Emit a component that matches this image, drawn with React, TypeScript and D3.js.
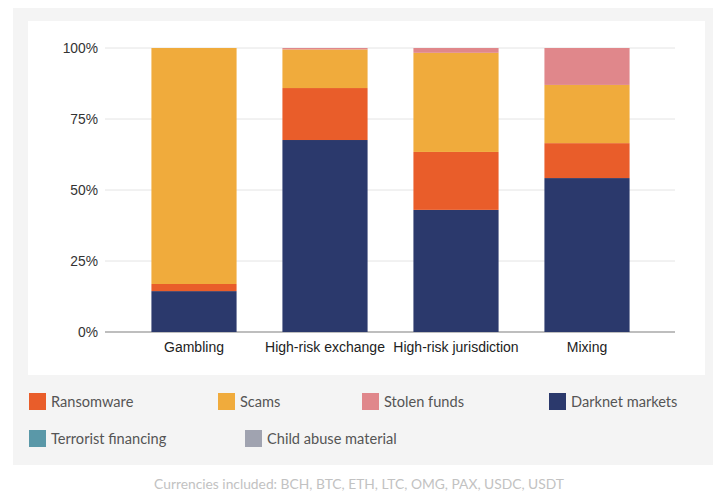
import React from "react";
import * as d3 from "d3";

const categories = ["Gambling", "High-risk exchange", "High-risk jurisdiction", "Mixing"];
const seriesNames = ["Darknet markets", "Ransomware", "Scams", "Stolen funds", "Terrorist financing", "Child abuse material"];
const darknet = [14.4, 67.6, 43.0, 54.2];
const ransomware = [2.5, 18.3, 20.4, 12.3];
const scams = [83.1, 13.6, 34.9, 20.5];
const stolen = [0, 0.5, 1.7, 13.0];
const terrorist = [0, 0, 0, 0];
const childAbuse = [0, 0, 0, 0];
const yTicks = [0, 25, 50, 75, 100];
const legendOrder = ["Ransomware", "Scams", "Stolen funds", "Darknet markets", "Terrorist financing", "Child abuse material"];
const footnote = "Currencies included: BCH, BTC, ETH, LTC, OMG, PAX, USDC, USDT";

const colors: Record<string, string> = {
  "Darknet markets": "#2b396c",
  "Ransomware": "#e95d2a",
  "Scams": "#f0ab3c",
  "Stolen funds": "#e0878b",
  "Terrorist financing": "#5a98a8",
  "Child abuse material": "#a0a3b0",
};

export default function App() {
  const W = 715, H = 496;
  const seriesValues = [darknet, ransomware, scams, stolen, terrorist, childAbuse];
  const rows = categories.map((c, i) => {
    const r: any = { cat: c };
    seriesNames.forEach((s, j) => (r[s] = seriesValues[j][i]));
    return r;
  });
  const stack = d3.stack<any>().keys(seriesNames)(rows);
  const x = d3.scaleBand().domain(categories).range([128.5, 652.5]).paddingInner(0.35).paddingOuter(0.175);
  const y = d3.scaleLinear().domain([0, 100]).range([332, 48]);
  const legendPos = [
    [29, 393], [218, 393], [362, 393], [549, 393],
    [29, 430], [245, 430],
  ];
  const font = "Liberation Sans, Arial, sans-serif";
  const lfont = "Lato, 'Noto Sans', sans-serif";
  return (
    <svg width={W} height={H} style={{ position: "absolute", left: 0, top: 0 }}>
      <rect x={0} y={0} width={W} height={H} fill="#ffffff" />
      <rect x={13} y={8} width={700} height={457} fill="#f4f4f4" />
      <rect x={28} y={21} width={677} height={354} fill="#ffffff" />
      {yTicks.map((t) => (
        <g key={t}>
          <line x1={105} x2={675} y1={y(t)} y2={y(t)} stroke={t === 0 ? "#a8a8a8" : "#e4e4e4"} strokeWidth={t === 0 ? 1.5 : 1} />
          <text x={98} y={y(t)} dy="0.35em" textAnchor="end" fontFamily={font} fontSize={13.8} fill="#333">{t}%</text>
        </g>
      ))}
      {stack.map((s) => (
        <g key={s.key} fill={colors[s.key]}>
          {s.map((d, i) => (
            <rect key={i} x={x(categories[i])} width={x.bandwidth()} y={y(d[1])} height={Math.max(0, y(d[0]) - y(d[1]))} />
          ))}
        </g>
      ))}
      {categories.map((c) => (
        <text key={c} x={(x(c) as number) + x.bandwidth() / 2} y={352} textAnchor="middle" fontFamily={font} fontSize={14} fill="#222">{c}</text>
      ))}
      {legendOrder.map((s, i) => (
        <g key={s} transform={`translate(${legendPos[i][0]},${legendPos[i][1]})`}>
          <rect width={17} height={17} fill={colors[s]} />
          <text x={22} y={8.5} dy="0.35em" fontFamily={lfont} fontSize={14.6} fill="#555">{s}</text>
        </g>
      ))}
      <text x={359} y={489} textAnchor="middle" fontFamily={lfont} fontSize={13.8} fill="#c2c2c2">{footnote}</text>
    </svg>
  );
}
